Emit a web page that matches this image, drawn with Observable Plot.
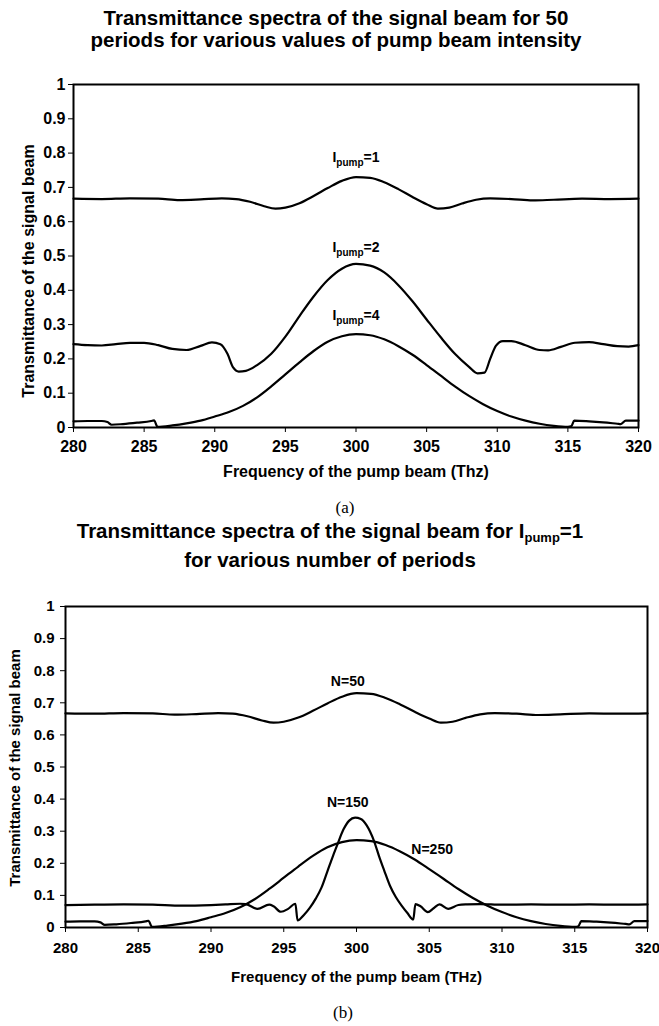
<!DOCTYPE html>
<html>
<head>
<meta charset="utf-8">
<script src="https://cdn.jsdelivr.net/npm/d3@7"></script>
<script src="https://cdn.jsdelivr.net/npm/@observablehq/plot@0.6"></script>
<style>
  html, body { margin: 0; padding: 0; background: #fff; }
  body { width: 659px; height: 1026px; position: relative; overflow: hidden;
         font-family: "Liberation Sans", Arial, sans-serif; color: #000; }
  .title { position: absolute; left: 0; text-align: center; font-weight: bold;
           font-size: 20.5px; white-space: nowrap; }
  .cap { position: absolute; left: 0; text-align: center; font-family: "Liberation Serif", "Times New Roman", serif;
         font-size: 17px; line-height: 18px; }
  .sub { font-size: 13px; position: relative; top: 4px; }
  .panel { position: absolute; left: 0; }
</style>
</head>
<body>
<div class="title" style="top:7px;width:672px;line-height:22px;">Transmittance spectra of the signal beam for 50<br>periods for various values of pump beam intensity</div>
<div id="pa" class="panel" style="top:60px"></div>
<div class="cap" style="top:499px;width:690px;">(a)</div>
<div class="title" style="top:518px;width:660px;line-height:26px;">Transmittance spectra of the signal beam for I<span class="sub">pump</span>=1<br>for various number of periods</div>
<div id="pb" class="panel" style="top:590px"></div>
<div class="cap" style="top:1004px;width:686px;">(b)</div>

<script>
// ---- axis ticks ----
const xTicks = [280, 285, 290, 295, 300, 305, 310, 315, 320];
const yTicks = [0, 0.1, 0.2, 0.3, 0.4, 0.5, 0.6, 0.7, 0.8, 0.9, 1];

// ---- series: [frequency (THz), transmittance] ----
const ipump1 = [[280,0.667],[282,0.666],[284,0.668],[286,0.667],[287.5,0.663],[289,0.665],[290.5,0.668],[291.5,0.666],
  [292.5,0.658],[293.5,0.645],[294.3,0.638],[295,0.641],[296,0.654],[297,0.675],[298,0.698],[299,0.719],[300,0.73],
  [301,0.728],[302,0.715],[303,0.695],[304,0.672],[305,0.651],[305.8,0.638],[306.6,0.641],[307.5,0.653],[308.5,0.664],
  [309.5,0.668],[311,0.666],[312.5,0.662],[314,0.664],[316,0.667],[318,0.666],[320,0.667]];

const ipump2 = [[280,0.243],[281,0.240],[282,0.239],[283,0.243],[284,0.247],[285,0.247],[286,0.240],[287,0.229],
  [288,0.226],[289,0.238],[289.8,0.248],[290.4,0.243],[290.9,0.215],[291.3,0.175],[291.7,0.163],[292.2,0.165],
  [293,0.182],[294,0.215],[295,0.265],[296,0.325],[297,0.382],[298,0.43],[299,0.463],[300,0.477],[301,0.472],
  [302,0.452],[303,0.415],[304,0.368],[305,0.315],[306,0.263],[307,0.215],[308,0.177],[308.6,0.158],[309.1,0.16],
  [309.5,0.2],[309.9,0.238],[310.4,0.252],[311,0.252],[312,0.24],[313,0.226],[313.6,0.225],[314.5,0.235],
  [315.5,0.247],[316.5,0.249],[317.5,0.243],[318.5,0.237],[319.3,0.236],[320,0.24]];

const ipump4 = [[280,0.018],[281,0.019],[282,0.019],[282.4,0.016],[282.7,0.008],[283.5,0.01],[284.5,0.014],
  [285.5,0.019],[285.7,0.021],[285.95,0.002],[287,0.006],[288,0.012],[289,0.02],[290,0.032],[291,0.045],
  [292,0.063],[293,0.088],[294,0.12],[295,0.155],[296,0.19],[297,0.223],[298,0.25],[299,0.266],[300,0.272],
  [301,0.269],[302,0.257],[303,0.237],[304,0.212],[305,0.182],[306,0.151],[307,0.12],[308,0.092],[309,0.068],
  [310,0.048],[311,0.032],[312,0.02],[313,0.011],[314,0.005],[315,0.002],[315.25,0.004],[315.45,0.02],
  [316.5,0.018],[317.5,0.015],[318.5,0.011],[318.75,0.01],[319.1,0.02],[320,0.02]];

const n50 = ipump1;
const n150 = [[280,0.070],[282,0.071],[284,0.072],[286,0.071],[288,0.068],[290,0.070],[291,0.072],[292,0.074],
  [292.4,0.073],[293.2,0.058],[294.0,0.071],[294.3,0.066],[294.8,0.049],[295.3,0.058],[295.8,0.074],[295.95,0.022],
  [296.4,0.04],[296.8,0.062],[297.2,0.09],[297.6,0.125],[298.0,0.175],[298.4,0.225],[298.7,0.26],[299.1,0.305],
  [299.5,0.333],[299.9,0.342],[300.3,0.338],[300.7,0.318],[301.2,0.27],[301.6,0.215],[301.9,0.178],[302.3,0.13],
  [302.7,0.095],[303.1,0.068],[303.5,0.045],[303.9,0.025],[304.05,0.073],[304.4,0.066],[304.9,0.048],[305.3,0.06],
  [305.7,0.072],[306.3,0.058],[307.0,0.07],[307.6,0.072],[308.5,0.073],[310,0.071],[312,0.072],[314,0.071],
  [316,0.072],[318,0.071],[320,0.072]];
const n250 = ipump4;

// ---- curve labels: [frequency, transmittance, text] ----
const labelsA = [[300, 0.775, "I_pump=1"], [300, 0.511, "I_pump=2"], [300, 0.314, "I_pump=4"]];
const labelsB = [[299.4, 0.751, "N=50"], [299.4, 0.374, "N=150"], [305.2, 0.23, "N=250"]];

function rows(list) {
  return list.flatMap(([name, pts]) => pts.map(([f, t]) => ({s: name, f, t})));
}

function panel(opts) {
  const data = rows(opts.series);
  const labels = opts.labels.map(([f, t, text]) => ({f, t, text}));
  const svg = Plot.plot({
    width: 659, height: opts.height,
    marginTop: opts.mt, marginBottom: opts.mb, marginLeft: opts.ml, marginRight: opts.mr,
    x: {domain: [280, 320]},
    y: {domain: [0, 1]},
    style: {fontFamily: "'Liberation Sans', Arial, sans-serif", fontWeight: "bold", color: "#000", background: "transparent"},
    marks: [
      Plot.axisX({ticks: xTicks, tickSize: 5, tickPadding: opts.xPad, fontSize: opts.tickFont, label: null, tickFormat: d => String(d)}),
      Plot.axisY({ticks: yTicks, tickSize: 5, tickPadding: opts.yPad, fontSize: opts.tickFont, label: null, tickFormat: d => String(d)}),
      Plot.line(data, {x: "f", y: "t", z: "s", stroke: "black", strokeWidth: 2.2, curve: "monotone-x"}),
      Plot.frame({stroke: "black", strokeWidth: 2}),
      Plot.text(labels, {x: "f", y: "t", text: "text", fontSize: 14, textAnchor: "middle", lineAnchor: "bottom"}),
      Plot.text([opts.xTitle], {text: d => d, frameAnchor: "bottom", dy: opts.xTitleDy, fontSize: opts.titleFont, textAnchor: "middle", lineAnchor: "middle"}),
      Plot.text([opts.yTitle], {text: d => d, frameAnchor: "left", rotate: -90, dx: opts.yTitleDx, dy: opts.yTitleDy, fontSize: opts.titleFont, textAnchor: "middle", lineAnchor: "middle"})
    ]
  });
  // render "I_pump=N" with a subscript
  svg.querySelectorAll("text").forEach(t => {
    const s = t.textContent;
    if (s.includes("_pump")) {
      const [pre, rest] = s.split("_pump");
      t.textContent = "";
      const ns = "http://www.w3.org/2000/svg";
      const a = document.createElementNS(ns, "tspan"); a.textContent = pre;
      const b = document.createElementNS(ns, "tspan"); b.textContent = "pump";
      b.setAttribute("font-size", "10"); b.setAttribute("dy", "4");
      const c = document.createElementNS(ns, "tspan"); c.textContent = rest;
      c.setAttribute("dy", "-4");
      t.append(a, b, c);
    }
  });
  return svg;
}

document.getElementById("pa").append(panel({
  height: 440, mt: 24, mb: 73, ml: 73, mr: 21,
  series: [["I_pump=1", ipump1], ["I_pump=2", ipump2], ["I_pump=4", ipump4]],
  labels: labelsA,
  xTitle: "Frequency of the pump beam (Thz)",
  yTitle: "Transmittance of the signal beam",
  tickFont: 16, titleFont: 16, xPad: 8, yPad: 3,
  xTitleDy: 44, yTitleDx: -45, yTitleDy: 15
}));

document.getElementById("pb").append(panel({
  height: 410, mt: 16, mb: 73, ml: 65, mr: 12,
  series: [["N=50", n50], ["N=150", n150], ["N=250", n250]],
  labels: labelsB,
  xTitle: "Frequency of the pump beam (THz)",
  yTitle: "Transmittance of the signal beam",
  tickFont: 15, titleFont: 15, xPad: 10, yPad: 6,
  xTitleDy: 50, yTitleDx: -50, yTitleDy: 1
}));
</script>
</body>
</html>
